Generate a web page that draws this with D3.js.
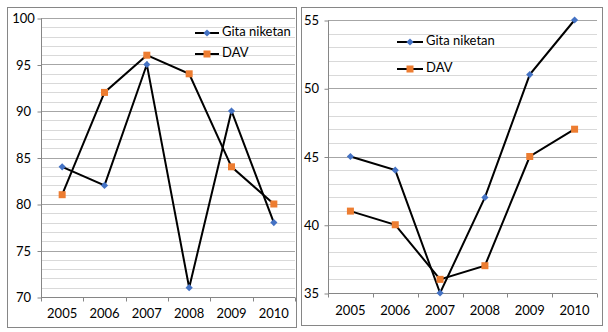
<!DOCTYPE html>
<html>
<head>
<meta charset="utf-8">
<script src="https://cdn.jsdelivr.net/npm/d3@7"></script>
<style>
  body { margin: 0; background: #fff; }
  svg text { font-family: Lato, "Noto Sans", sans-serif; font-size: 13px; fill: #000; }
</style>
</head>
<body>
<div id="chart"></div>
<script>
// shared categories
var years = ["2005", "2006", "2007", "2008", "2009", "2010"];
var seriesNames = ["Gita niketan", "DAV"];

// first chart
var leftGita = [84, 82, 95, 71, 90, 78];
var leftDav = [81, 92, 96, 94, 84, 80];
var leftTicks = [70, 75, 80, 85, 90, 95, 100];

// second chart
var rightGita = [45, 44, 35, 42, 51, 55];
var rightDav = [41, 40, 36, 37, 45, 47];
var rightTicks = [35, 40, 45, 50, 55];

var svg = d3.select("#chart").append("svg")
    .attr("width", 608)
    .attr("height", 332);

var colors = { "Gita niketan": "#4472c4", "DAV": "#ed7d31" };

function marker(g, name, cx, cy) {
    if (name === "DAV") {
        g.append("rect")
            .attr("x", cx - 3.5).attr("y", cy - 3.5)
            .attr("width", 7).attr("height", 7)
            .attr("fill", colors[name]);
    } else {
        var r = 3.6;
        g.append("path")
            .attr("d", `M${cx},${cy - r}L${cx + r},${cy}L${cx},${cy + r}L${cx - r},${cy}Z`)
            .attr("fill", colors[name]);
    }
}

function drawPanel(cfg) {
    var g = svg.append("g");

    // outer frame
    g.append("rect")
        .attr("x", cfg.box[0] + 0.5).attr("y", cfg.box[1] + 0.5)
        .attr("width", cfg.box[2]).attr("height", cfg.box[3])
        .attr("fill", "#fff")
        .attr("stroke", "#868686");

    var x = d3.scaleBand()
        .domain(years)
        .range([cfg.plot[0], cfg.plot[1]]);

    var y = d3.scaleLinear()
        .domain([cfg.ticks[0], cfg.ticks[cfg.ticks.length - 1]])
        .range([cfg.plot[3], cfg.plot[2]]);

    // minor gridlines every unit, major every 5
    var minor = d3.range(cfg.ticks[0] + 1, cfg.ticks[cfg.ticks.length - 1]).filter(v => v % 5 !== 0);
    g.selectAll("line.minor").data(minor).enter().append("line")
        .attr("x1", cfg.plot[0]).attr("x2", cfg.plot[1])
        .attr("y1", d => Math.round(y(d)) + 0.5).attr("y2", d => Math.round(y(d)) + 0.5)
        .attr("stroke", "#d9d9d9");
    g.selectAll("line.major").data(cfg.ticks.slice(1)).enter().append("line")
        .attr("x1", cfg.plot[0]).attr("x2", cfg.plot[1])
        .attr("y1", d => Math.round(y(d)) + 0.5).attr("y2", d => Math.round(y(d)) + 0.5)
        .attr("stroke", "#a6a6a6");

    // y axis, labels centred in the margin
    var yAxis = g.append("g")
        .attr("transform", `translate(${cfg.plot[0] + 0.5},0.5)`)
        .call(d3.axisLeft(y).tickValues(cfg.ticks).tickSize(4));
    yAxis.select(".domain").attr("stroke", "#868686").attr("d", `M0,${y.range()[1]}V${y.range()[0]}`);
    yAxis.selectAll(".tick line").attr("stroke", "#868686");
    yAxis.selectAll("text")
        .style("font-size", "13px")
        .attr("fill", "#000")
        .attr("text-anchor", "middle")
        .attr("x", cfg.yLabelX - cfg.plot[0]);

    // x axis: ticks between categories, labels in the middle
    var base = Math.round(y(cfg.ticks[0])) + 0.5;
    g.append("line")
        .attr("x1", cfg.plot[0]).attr("x2", cfg.plot[1])
        .attr("y1", base).attr("y2", base)
        .attr("stroke", "#868686");
    var bounds = years.map(d => x(d)).concat([x.range()[1]]);
    g.selectAll("line.xtick").data(bounds).enter().append("line")
        .attr("x1", d => Math.round(d) + 0.5).attr("x2", d => Math.round(d) + 0.5)
        .attr("y1", base).attr("y2", base + 4)
        .attr("stroke", "#868686");
    g.selectAll("text.year").data(years).enter().append("text")
        .attr("x", d => x(d) + x.bandwidth() / 2)
        .attr("y", cfg.labelY)
        .attr("text-anchor", "middle")
        .attr("dominant-baseline", "middle")
        .text(d => d);

    // lines and markers
    var line = d3.line()
        .x((d, i) => x(years[i]) + x.bandwidth() / 2)
        .y(d => y(d));

    cfg.series.forEach(function(s) {
        g.append("path")
            .attr("d", line(s.values))
            .attr("fill", "none")
            .attr("stroke", "#000")
            .attr("stroke-width", 2);
    });
    cfg.series.forEach(function(s) {
        s.values.forEach(function(v, i) {
            marker(g, s.name, x(years[i]) + x.bandwidth() / 2, y(v));
        });
    });

    // legend
    cfg.series.forEach(function(s, i) {
        var ly = cfg.legend.y[i];
        g.append("line")
            .attr("x1", cfg.legend.x0).attr("x2", cfg.legend.x1)
            .attr("y1", ly).attr("y2", ly)
            .attr("stroke", "#000").attr("stroke-width", 2);
        marker(g, s.name, (cfg.legend.x0 + cfg.legend.x1) / 2, ly);
        g.append("text")
            .attr("x", cfg.legend.x1 + 3)
            .attr("y", ly)
            .attr("dominant-baseline", "middle")
            .text(s.name);
    });
}

drawPanel({
    box: [7, 7, 289, 320],
    plot: [41, 295, 18, 297],
    ticks: leftTicks,
    yLabelX: 23,
    labelY: 315,
    legend: { x0: 195, x1: 219, y: [33, 54] },
    series: [
        { name: seriesNames[0], values: leftGita },
        { name: seriesNames[1], values: leftDav }
    ]
});

drawPanel({
    box: [301, 7, 301, 318],
    plot: [328, 597, 20, 293],
    ticks: rightTicks,
    yLabelX: 311,
    labelY: 312,
    legend: { x0: 397, x1: 423, y: [42, 69] },
    series: [
        { name: seriesNames[0], values: rightGita },
        { name: seriesNames[1], values: rightDav }
    ]
});
</script>
</body>
</html>
